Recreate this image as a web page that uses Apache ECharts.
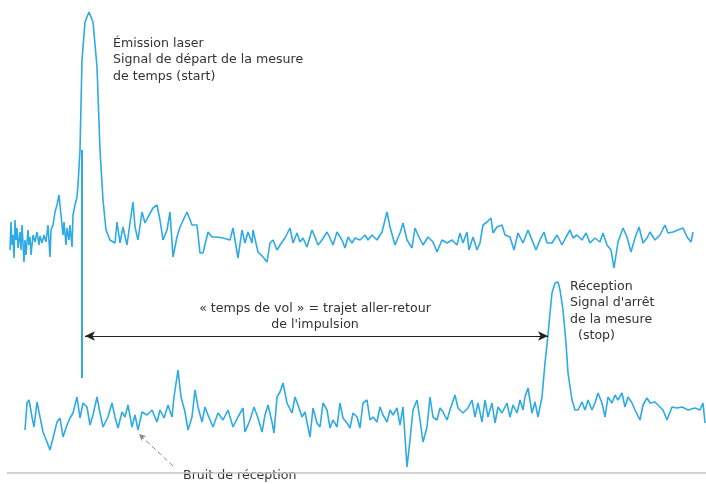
<!DOCTYPE html>
<html>
<head>
<meta charset="utf-8">
<script src="https://cdn.jsdelivr.net/npm/echarts@6/dist/echarts.min.js"></script>
<style>html,body{margin:0;padding:0;background:#fff}#c{width:706px;height:484px}</style>
</head>
<body>
<div id="c"></div>
<script>
// Emitted (start) signal: [time, level] (level measured downward, screen-like scale)
const emitSignal = [
[10,250],[11,222],[12,245],[13,235],[14,258],[15,220],[16,240],[17,228],[18,248],[20,232],[21,250],[22,225],[24,262],[25,240],[26,255],[28,230],[29,245],[30,237],[31,255],[33,235],[35,242],[37,232],[39,245],[40,236],[42,243],[44,235],[46,242],[48,225],[50,257],[51,230],[53,225],[55,212],[57,205],[59,195],[61,215],[63,235],[64,222],[66,245],[67,228],[69,240],[70,225],[72,247],[73,215],[75,205],[77,197],[78,185],[80,150],[82,60],[85,22],[89,12],[93,22],[97,67],[100,150],[103,200],[106,230],[110,240],[115,243],[117,222],[120,243],[123,227],[127,245],[130,223],[133,202],[135,227],[138,240],[142,212],[145,223],[148,217],[153,208],[157,205],[160,220],[163,240],[167,230],[170,212],[173,257],[177,237],[180,227],[187,212],[192,225],[197,225],[200,253],[203,253],[208,232],[212,237],[217,237],[223,238],[230,240],[233,228],[238,258],[242,230],[245,243],[248,232],[252,243],[253,230],[258,252],[263,257],[267,262],[270,243],[273,240],[277,250],[282,242],[285,238],[290,228],[293,243],[297,233],[300,242],[303,238],[307,247],[312,230],[315,237],[318,245],[322,240],[327,232],[330,238],[333,245],[337,232],[342,240],[345,248],[348,237],[352,243],[355,238],[360,240],[365,235],[368,240],[372,235],[377,240],[382,232],[387,212],[390,227],[395,245],[400,233],[403,223],[407,240],[412,248],[415,228],[418,235],[423,245],[428,237],[433,242],[437,252],[442,240],[447,243],[452,240],[457,245],[460,233],[463,243],[467,232],[469,250],[473,237],[477,250],[480,243],[483,225],[487,222],[491,218],[493,233],[497,227],[502,225],[505,235],[510,237],[514,250],[518,233],[523,243],[528,230],[532,240],[536,250],[540,240],[544,232],[547,243],[552,243],[557,235],[562,245],[566,237],[570,230],[573,238],[577,235],[582,240],[586,233],[590,243],[595,238],[600,242],[603,233],[607,245],[611,250],[614,268],[618,242],[623,228],[627,237],[631,252],[635,238],[639,227],[643,243],[647,238],[650,232],[655,240],[660,235],[665,225],[668,233],[673,232],[678,230],[683,228],[687,237],[691,242],[693,232]
];
// Received (stop) signal
const receiveSignal = [
[25,430],[27,403],[29,400],[32,417],[34,427],[37,402],[39,400],[41,422],[43,432],[47,442],[50,450],[53,438],[57,422],[60,418],[63,437],[67,425],[70,418],[73,413],[77,397],[80,418],[83,403],[87,407],[90,425],[93,415],[97,397],[100,413],[103,427],[108,417],[112,403],[115,417],[118,428],[122,412],[125,417],[128,405],[132,427],[135,415],[138,430],[142,412],[147,415],[152,410],[157,422],[160,410],[164,418],[168,405],[172,417],[174,397],[178,370],[181,397],[185,412],[188,430],[192,417],[195,390],[198,407],[202,422],[205,407],[208,415],[213,427],[218,413],[223,420],[228,410],[233,427],[238,417],[243,408],[245,432],[250,420],[254,407],[258,418],[262,432],[265,415],[268,405],[272,422],[274,433],[277,397],[280,392],[283,383],[287,403],[292,413],[295,397],[298,405],[302,417],[305,412],[310,437],[313,408],[317,423],[320,427],[323,403],[327,410],[330,428],[333,420],[337,427],[340,403],[343,418],[347,423],[350,428],[353,413],[357,417],[360,428],[363,403],[367,400],[370,420],[373,417],[377,422],[380,407],[383,415],[387,422],[390,410],[393,415],[397,408],[400,425],[403,407],[407,467],[410,440],[413,410],[417,400],[420,420],[423,442],[427,427],[430,397],[433,417],[437,420],[440,408],[443,412],[447,420],[450,410],[455,395],[458,408],[463,413],[468,408],[472,400],[475,417],[478,403],[482,422],[485,400],[488,417],[492,403],[495,423],[498,407],[502,413],[507,403],[510,417],[513,405],[517,413],[520,400],[523,410],[525,397],[528,388],[532,413],[535,402],[538,417],[542,397],[545,363],[548,335],[550,313],[552,293],[555,283],[558,282],[560,290],[563,310],[566,343],[568,373],[572,400],[575,410],[578,410],[582,402],[585,410],[588,400],[592,410],[595,403],[598,393],[602,403],[605,417],[608,397],[612,403],[615,395],[618,400],[622,393],[625,407],[628,397],[632,403],[635,410],[640,420],[643,405],[647,398],[650,403],[655,402],[660,407],[663,410],[667,420],[672,407],[677,408],[682,407],[688,410],[695,408],[700,410],[703,403],[705,423]
];
// Start marker (vertical line through the emitted pulse)
const startMarker = [[82,150],[82,378]];
// Time-of-flight span and noise pointer
const tofSpan = [85, 548, 336];
const noisePointer = [[173,466],[139,434]];
const baseline = [[7,473],[706,473]];

const emitText = ['Émission laser', 'Signal de départ de la mesure', 'de temps (start)'];
const recvText = ['Réception', "Signal d'arrêt", 'de la mesure', '  (stop)'];
const tofText = ['« temps de vol » = trajet aller-retour', "de l'impulsion"];
const noiseText = 'Bruit de réception';

const blue = '#2eaae6';
const chart = echarts.init(document.getElementById('c'), null, {renderer: 'canvas'});
const txtStyle = {fill: '#333', font: '12.6px "DejaVu Sans", sans-serif', lineHeight: 16.5};
chart.setOption({
  animation: false,
  grid: {left: 0, right: 0, top: 0, bottom: 0},
  xAxis: {type: 'value', min: 0, max: 706, show: false},
  yAxis: {type: 'value', min: 0, max: 484, inverse: true, show: false},
  series: [
    {type: 'line', data: baseline, symbol: 'none', lineStyle: {color: '#c4c4c4', width: 1.5}, z: 1},
    {type: 'line', data: emitSignal, symbol: 'none', lineStyle: {color: blue, width: 1.6}},
    {type: 'line', data: receiveSignal, symbol: 'none', lineStyle: {color: blue, width: 1.6}},
    {type: 'line', data: startMarker, symbol: 'none', lineStyle: {color: blue, width: 2}},
    {type: 'line', data: [], symbol: 'none',
      markLine: {silent: true, symbol: ['arrow', 'arrow'], symbolSize: [7, 10], label: {show: false},
        lineStyle: {color: '#222', width: 1, type: 'solid'},
        data: [[{coord: [tofSpan[0], tofSpan[2]]}, {coord: [tofSpan[1], tofSpan[2]]}]]}},
    {type: 'line', data: [], symbol: 'none',
      markLine: {silent: true, symbol: ['none', 'arrow'], symbolSize: [5, 7], label: {show: false},
        lineStyle: {color: '#888', width: 1, type: [5, 3]},
        data: [[{coord: noisePointer[0]}, {coord: noisePointer[1]}]]}}
  ],
  graphic: [
    {type: 'text', x: 113, y: 35, style: Object.assign({text: emitText.join('\n')}, txtStyle)},
    {type: 'text', x: 570, y: 278, style: Object.assign({text: recvText.join('\n')}, txtStyle)},
    {type: 'text', x: 315, y: 300, style: Object.assign({text: tofText.join('\n')}, txtStyle, {align: 'center'})},
    {type: 'text', x: 181, y: 467, style: Object.assign({text: noiseText, backgroundColor: '#fff', padding: [0, 2]}, txtStyle)}
  ]
});
</script>
</body>
</html>
